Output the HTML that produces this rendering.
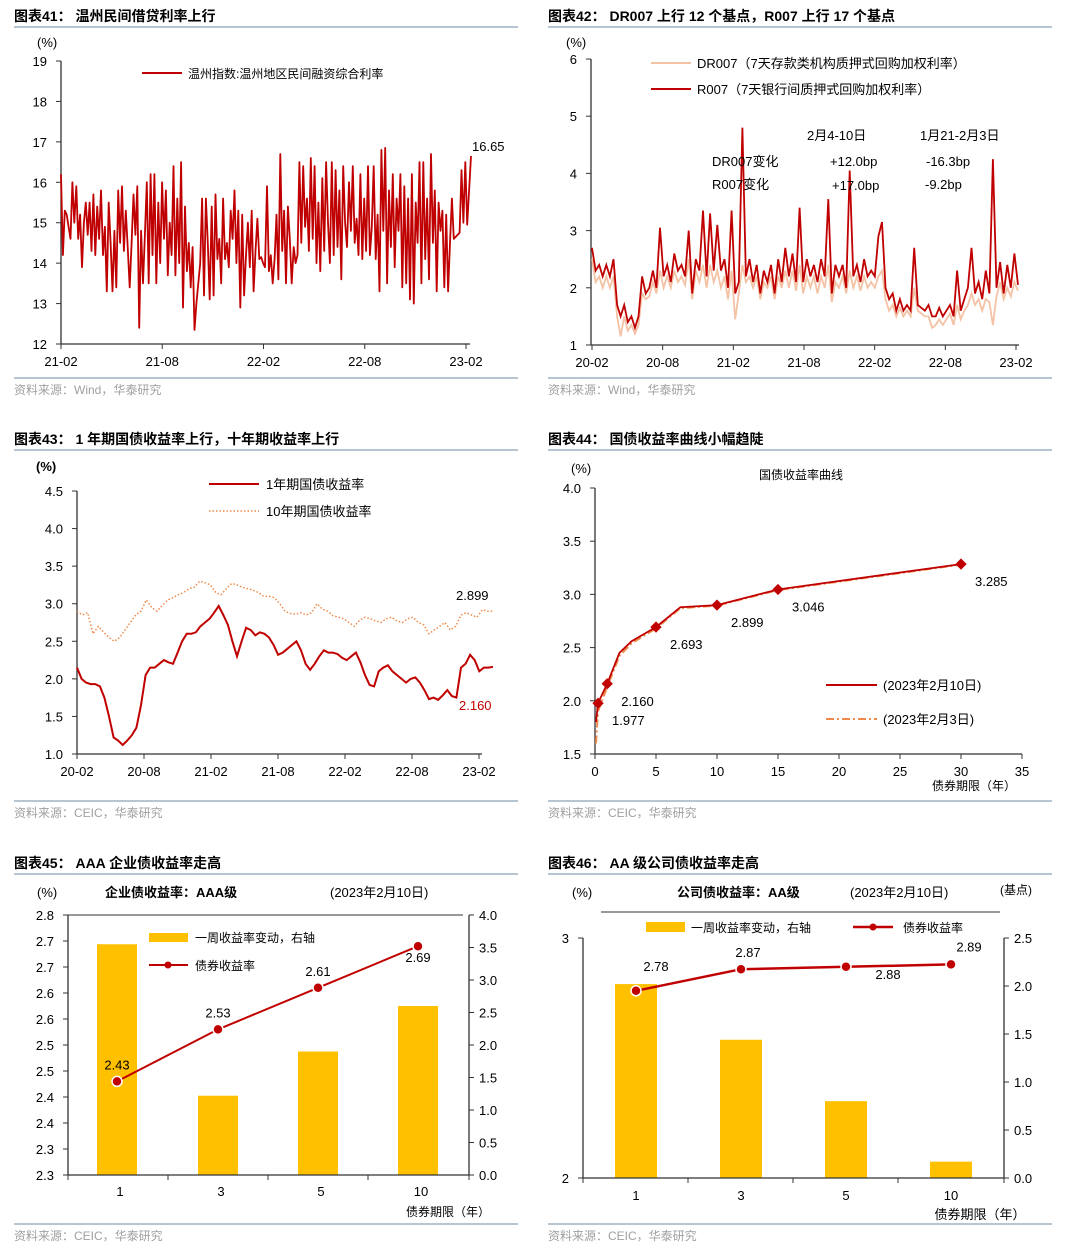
<!DOCTYPE html>
<html><head><meta charset="utf-8">
<style>
html,body{margin:0;padding:0;background:#fff;}
svg{display:block;font-family:"Liberation Sans","Noto Sans CJK SC",sans-serif;}
</style></head>
<body>
<svg id="s" width="1068" height="1258" viewBox="0 0 1068 1258" xmlns="http://www.w3.org/2000/svg"></svg>
<script>
// ---------- Chart 41 data ----------
const c41Ticks = [12,13,14,15,16,17,18,19];
const c41XLabels = ['21-02','21-08','22-02','22-08','23-02'];
const c41Rate = [16.2,14.2,15.3,15.2,14.9,14.6,16.0,15.0,15.9,14.6,15.2,13.9,15.0,15.5,14.7,15.5,14.3,15.7,14.2,15.4,14.6,15.8,14.2,14.9,13.3,15.5,14.5,13.3,14.8,13.4,15.8,14.5,15.9,14.3,15.3,14.4,13.4,14.5,15.7,14.7,15.9,12.4,14.8,13.5,14.7,16.0,13.5,16.2,14.2,16.2,13.5,
15.5,14.0,16.0,14.6,15.8,13.7,15.0,14.2,16.4,13.7,15.6,14.0,16.5,12.9,15.4,13.8,14.5,13.4,14.4,12.35,13.0,13.5,14.0,15.6,13.2,15.6,14.5,13.1,15.4,13.2,15.7,14.1,14.6,13.5,15.6,14.1,14.5,13.9,15.3,14.6,15.8,14.0,15.3,12.9,15.2,13.2,14.2,15.0,13.9,15.3,13.3,14.3,15.1,14.1,
14.15,14.0,13.9,15.9,13.8,14.2,13.5,14.1,15.2,13.6,16.7,14.3,15.3,13.5,15.4,14.6,13.5,14.4,14.0,14.2,
16.5,14.5,16.4,14.9,15.6,14.3,16.6,14.6,16.4,14.0,15.5,13.8,16.1,14.3,16.5,15.0,14.0,16.5,14.2,16.3,14.4,15.8,13.6,16.4,15.0,14.4,16.0,14.8,16.4,14.5,15.1,14.2,16.2,14.1,15.6,14.3,16.4,14.2,14.9,16.4,14.1,15.2,13.3,16.8,14.8,16.85,13.5,15.8,14.4,16.2,13.9,15.6,14.8,16.2,13.4,15.9,13.5,15.6,13.1,16.2,13.0,15.5,14.5,16.5,13.5,16.5,14.1,15.6,13.6,16.7,14.5,15.8,13.3,15.5,14.8,15.3,13.4,15.2,13.3,14.5,15.6,14.6,
14.65,14.7,14.75,16.3,15.0,16.5,14.95,15.8,16.65];

// ---------- Chart 42 data ----------
const c42Ticks = [1,2,3,4,5,6];
const c42XLabels = ['20-02','20-08','21-02','21-08','22-02','22-08','23-02'];
const c42R007 = [2.7,2.3,2.4,2.2,2.4,2.2,2.5,1.7,1.5,1.7,1.4,1.5,1.3,1.5,2.2,1.9,2.0,2.3,2.0,3.05,2.2,2.4,2.1,2.6,2.3,2.4,2.2,3.0,1.9,2.5,2.3,3.35,2.2,3.3,2.3,3.1,2.3,2.5,2.0,3.35,1.9,2.1,4.8,2.2,2.5,2.1,2.4,1.9,2.3,2.1,2.4,1.9,2.5,2.1,2.7,2.2,2.6,2.1,3.4,2.1,2.5,2.2,2.4,2.1,2.5,2.2,3.55,1.9,2.4,2.2,2.4,2.0,4.05,2.2,2.4,2.1,2.5,2.2,2.3,2.2,2.9,3.15,2.0,1.8,1.9,1.6,1.8,1.6,1.7,1.6,2.7,1.7,1.65,1.6,1.7,1.5,1.5,1.65,1.5,1.6,1.7,1.5,2.3,1.6,1.8,2.0,2.7,1.9,2.1,1.8,2.3,1.9,4.25,2.0,2.45,1.9,2.4,2.0,2.6,2.05];
const c42DR007 = [2.5,2.1,2.2,2.0,2.2,2.0,2.2,1.5,1.15,1.5,1.25,1.35,1.2,1.35,1.9,1.8,1.85,2.1,1.9,2.3,2.0,2.2,2.0,2.3,2.1,2.2,2.05,2.5,1.8,2.3,2.1,2.4,2.0,2.4,2.1,2.3,2.0,2.2,1.8,2.3,1.45,1.9,2.4,2.1,2.2,2.0,2.2,1.8,2.1,2.0,2.2,1.8,2.2,2.0,2.3,2.0,2.3,1.95,2.4,1.9,2.2,2.0,2.2,1.9,2.2,2.0,2.4,1.75,2.1,2.0,2.2,1.9,2.3,2.0,2.2,1.95,2.2,2.0,2.1,2.0,2.2,2.3,1.8,1.6,1.7,1.5,1.65,1.5,1.6,1.5,2.0,1.6,1.55,1.5,1.5,1.3,1.35,1.45,1.35,1.45,1.55,1.35,1.7,1.45,1.6,1.7,1.9,1.7,1.8,1.6,1.8,1.75,1.35,1.85,2.1,1.8,2.0,1.85,2.1,1.95];

// ---------- Chart 43 data ----------
const c43Ticks = [1.0,1.5,2.0,2.5,3.0,3.5,4.0,4.5];
const c43XLabels = ['20-02','20-08','21-02','21-08','22-02','22-08','23-02'];
const c43Y1 = [2.15,2.0,1.95,1.93,1.93,1.9,1.75,1.5,1.22,1.18,1.12,1.18,1.25,1.35,1.65,2.05,2.15,2.15,2.2,2.25,2.22,2.2,2.35,2.5,2.6,2.6,2.62,2.7,2.75,2.8,2.88,2.97,2.85,2.72,2.5,2.3,2.5,2.68,2.65,2.58,2.62,2.6,2.55,2.45,2.32,2.35,2.4,2.45,2.5,2.38,2.2,2.12,2.2,2.3,2.38,2.35,2.35,2.33,2.28,2.25,2.3,2.35,2.22,2.05,1.92,1.9,2.1,2.15,2.18,2.1,2.05,2.0,1.95,2.0,2.02,1.95,1.85,1.73,1.75,1.72,1.78,1.85,1.77,1.75,2.15,2.2,2.32,2.25,2.1,2.15,2.15,2.16];
const c43Y10 = [2.9,2.85,2.88,2.6,2.7,2.62,2.55,2.5,2.55,2.65,2.75,2.85,2.9,3.05,2.95,2.9,2.98,3.05,3.08,3.12,3.15,3.2,3.22,3.3,3.28,3.25,3.15,3.12,3.2,3.27,3.25,3.22,3.2,3.18,3.15,3.1,3.1,3.08,3.0,2.9,2.87,2.86,2.88,2.85,2.88,3.0,2.93,2.9,2.84,2.82,2.8,2.75,2.7,2.78,2.82,2.8,2.77,2.75,2.8,2.82,2.77,2.75,2.8,2.82,2.75,2.72,2.6,2.65,2.7,2.75,2.65,2.7,2.85,2.88,2.85,2.82,2.92,2.9,2.9];

// ---------- Chart 44 data ----------
const c44Ticks = [1.5,2.0,2.5,3.0,3.5,4.0];
const c44XTicks = [0,5,10,15,20,25,30,35];
const c44Tenor = [0.08,0.25,1,2,3,5,7,10,15,30];
const c44Feb10 = [1.8,1.977,2.16,2.45,2.56,2.693,2.88,2.899,3.046,3.285];
const c44Feb3 = [1.6,1.9,2.13,2.42,2.54,2.68,2.87,2.895,3.04,3.28];
const c44MarkTenor = [0.25,1,5,10,15,30];
const c44MarkVal = [1.977,2.16,2.693,2.899,3.046,3.285];

// ---------- Chart 45 data ----------
const c45Cats = ['1','3','5','10'];
const c45Yield = [2.43,2.53,2.61,2.69];
const c45Change = [3.55,1.22,1.9,2.6];
const c45LeftTicks = [2.25,2.30,2.35,2.40,2.45,2.50,2.55,2.60,2.65,2.70,2.75];
const c45RightTicks = [0,0.5,1.0,1.5,2.0,2.5,3.0,3.5,4.0];

// ---------- Chart 46 data ----------
const c46Cats = ['1','3','5','10'];
const c46Yield = [2.78,2.87,2.88,2.89];
const c46Change = [2.02,1.44,0.80,0.17];
const c46LeftTicks = [2,3];
const c46RightTicks = [0,0.5,1.0,1.5,2.0,2.5];

const NS='http://www.w3.org/2000/svg';
const svg=document.getElementById('s');
function el(tag,attrs,parent,text){const e=document.createElementNS(NS,tag);for(const k in attrs)e.setAttribute(k,attrs[k]);if(text!==undefined)e.textContent=text;(parent||svg).appendChild(e);return e;}
function grp(name){const g=el('g',{});return g;}
function lin(d0,d1,r0,r1){return v=>r0+(v-d0)/(d1-d0)*(r1-r0);}
function txt(g,x,y,s,opt){opt=opt||{};const t=el('text',{x:x,y:y,'font-size':opt.fs||13,fill:opt.fill||'#000','text-anchor':opt.anchor||'start','font-weight':opt.fw||'normal'},g,s);return t;}
function pathFrom(xs,ys){let d='';for(let i=0;i<xs.length;i++)d+=(i?'L':'M')+xs[i].toFixed(1)+','+ys[i].toFixed(1);return d;}
function fmt1(v){return (Math.round(v*10+1e-9)/10).toFixed(1);}

function frame(x,yTitle,title,source,nm){
  const g=grp(nm+'-frame');
  const t=txt(g,x,yTitle,title,{fs:14,fw:'bold'});
  
  el('line',{x1:x,y1:yTitle+6,x2:x+504,y2:yTitle+6,stroke:'#6f8aa6','stroke-width':1},g);
  const srcY = yTitle+ (nm==='c45'||nm==='c46'?356:357);
  el('line',{x1:x,y1:srcY,x2:x+504,y2:srcY,stroke:'#6f8aa6','stroke-width':1},g);
  const s=txt(g,x,srcY+16,source,{fs:12,fill:'#a0a0a0'});
  
}
frame(14,21,'图表41：  温州民间借贷利率上行','资料来源：Wind，华泰研究','c41');
frame(548,21,'图表42：  DR007 上行 12 个基点，R007 上行 17 个基点','资料来源：Wind，华泰研究','c42');
frame(14,444,'图表43：  1 年期国债收益率上行，十年期收益率上行','资料来源：CEIC，华泰研究','c43');
frame(548,444,'图表44：  国债收益率曲线小幅趋陡','资料来源：CEIC，华泰研究','c44');
frame(14,868,'图表45：  AAA 企业债收益率走高','资料来源：CEIC，华泰研究','c45');
frame(548,868,'图表46：  AA 级公司债收益率走高','资料来源：CEIC，华泰研究','c46');

function yAxis(g,x,ys,ticks,yFn,labFn,side){
  el('line',{x1:x,y1:ys[0],x2:x,y2:ys[1],stroke:'#333','stroke-width':1.3},g);
  ticks.forEach(v=>{const y=yFn(v);
    el('line',{x1:side==='r'?x:x-5,y1:y,x2:side==='r'?x+5:x,y2:y,stroke:'#333'},g);
    const t=txt(g,side==='r'?x+10:x-14,y+5,labFn(v),{anchor:side==='r'?'start':'end'});
    });
}
function xAxisTime(g,y,x0,x1,xs,labels){
  el('line',{x1:x0,y1:y,x2:x1,y2:y,stroke:'#333','stroke-width':1.3},g);
  labels.forEach((l,i)=>{el('line',{x1:xs[i],y1:y,x2:xs[i],y2:y+5,stroke:'#333'},g);
    const t=txt(g,xs[i],y+22,l,{anchor:'middle'});
    });
}

// ===== Chart 41 =====
(function(){
  const g=grp('chart41-wenzhou-rate');
  const Y=lin(12,19,344,61);
  txt(g,37,47,'(%)');
  yAxis(g,61,[61,344],c41Ticks,Y,v=>String(v));
  const xt=c41XLabels.map((l,i)=>lin(0,4,61,466)(i));
  xAxisTime(g,344,61,470,xt,c41XLabels);
  const X=lin(0,c41Rate.length-1,61,471);
  const p=el('path',{d:pathFrom(c41Rate.map((v,i)=>X(i)),c41Rate.map(Y)),fill:'none',stroke:'#c00000','stroke-width':1.8,'stroke-linejoin':'round'},g);
  
  const lg=grp('c41-legend');g.appendChild(lg);
  el('line',{x1:142,y1:73,x2:182,y2:73,stroke:'#c00000','stroke-width':2},lg);
  txt(lg,188,78,'温州指数:温州地区民间融资综合利率',{fs:12});
  txt(g,472,151,'16.65',{fs:13});
})();

// ===== Chart 42 =====
(function(){
  const g=grp('chart42-repo-rates');
  const Y=lin(1,6,345,59);
  txt(g,566,47,'(%)');
  yAxis(g,591,[59,345],c42Ticks,Y,v=>String(v));
  const xt=c42XLabels.map((l,i)=>lin(0,6,592,1016)(i));
  xAxisTime(g,345,591,1019,xt,c42XLabels);
  const X1=lin(0,c42DR007.length-1,592,1018);
  const p1=el('path',{d:pathFrom(c42DR007.map((v,i)=>X1(i)),c42DR007.map(Y)),fill:'none',stroke:'#f4c2a4','stroke-width':1.8},g);
  
  const X2=lin(0,c42R007.length-1,592,1018);
  const p2=el('path',{d:pathFrom(c42R007.map((v,i)=>X2(i)),c42R007.map(Y)),fill:'none',stroke:'#c00000','stroke-width':1.8},g);
  
  const lg=grp('c42-legend');g.appendChild(lg);
  el('line',{x1:651,y1:63,x2:691,y2:63,stroke:'#f4c2a4','stroke-width':2},lg);
  txt(lg,697,68,'DR007（7天存款类机构质押式回购加权利率）',{fs:13});
  el('line',{x1:651,y1:89,x2:691,y2:89,stroke:'#c00000','stroke-width':2},lg);
  txt(lg,697,94,'R007（7天银行间质押式回购加权利率）',{fs:13});
  const an=grp('c42-annotation-table');g.appendChild(an);
  txt(an,807,140,'2月4-10日');txt(an,920,140,'1月21-2月3日');
  txt(an,712,166,'DR007变化');txt(an,830,166,'+12.0bp');txt(an,926,166,'-16.3bp');
  txt(an,712,189,'R007变化');txt(an,832,190,'+17.0bp');txt(an,925,189,'-9.2bp');
})();

// ===== Chart 43 =====
(function(){
  const g=grp('chart43-treasury-yields');
  const Y=lin(1,4.5,754,491);
  txt(g,36,471,'(%)',{fw:'bold'});
  yAxis(g,77,[491,754],c43Ticks,Y,v=>v.toFixed(1));
  const xt=c43XLabels.map((l,i)=>lin(0,6,77,479)(i));
  xAxisTime(g,754,77,482,xt,c43XLabels);
  const X10=lin(0,c43Y10.length-1,77,493);
  const p10=el('path',{d:pathFrom(c43Y10.map((v,i)=>X10(i)),c43Y10.map(Y)),fill:'none',stroke:'#ee8a4a','stroke-width':1.5,'stroke-dasharray':'1.5,2'},g);
  
  const X1=lin(0,c43Y1.length-1,77,493);
  const p1=el('path',{d:pathFrom(c43Y1.map((v,i)=>X1(i)),c43Y1.map(Y)),fill:'none',stroke:'#c00000','stroke-width':2},g);
  
  const lg=grp('c43-legend');g.appendChild(lg);
  el('line',{x1:209,y1:484,x2:259,y2:484,stroke:'#c00000','stroke-width':2},lg);
  txt(lg,266,489,'1年期国债收益率',{fs:13});
  el('line',{x1:209,y1:511,x2:259,y2:511,stroke:'#ee8a4a','stroke-width':1.5,'stroke-dasharray':'1.5,2'},lg);
  txt(lg,266,516,'10年期国债收益率',{fs:13});
  txt(g,456,600,'2.899');
  txt(g,459,710,'2.160',{fill:'#c00000'});
})();

// ===== Chart 44 =====
(function(){
  const g=grp('chart44-yield-curve');
  const Y=lin(1.5,4.0,754,488), X=lin(0,35,595,1022);
  txt(g,571,473,'(%)');
  yAxis(g,595,[488,754],c44Ticks,Y,v=>v.toFixed(1));
  el('line',{x1:595,y1:754,x2:1022,y2:754,stroke:'#333','stroke-width':1.3},g);
  c44XTicks.forEach(v=>{el('line',{x1:X(v),y1:754,x2:X(v),y2:759,stroke:'#333'},g);
    const t=txt(g,X(v),776,String(v),{anchor:'middle'});});
  txt(g,974,790,'债券期限（年）',{anchor:'middle',fs:12});
  txt(g,801,479,'国债收益率曲线',{anchor:'middle',fs:12});
  const p3=el('path',{d:pathFrom(c44Tenor.map(X),c44Feb3.map(Y)),fill:'none',stroke:'#ee8a4a','stroke-width':2,'stroke-dasharray':'8,3,2,3'},g);
  
  const p10=el('path',{d:pathFrom(c44Tenor.map(X),c44Feb10.map(Y)),fill:'none',stroke:'#c00000','stroke-width':1.8},g);
  
  c44MarkTenor.forEach((t,i)=>{const cx=X(t),cy=Y(c44MarkVal[i]);
    const m=el('rect',{x:cx-4,y:cy-4,width:8,height:8,fill:'#c00000',transform:'rotate(45 '+cx+' '+cy+')'},g);
    
    const lbl=txt(g,cx+14,cy+22,c44MarkVal[i].toFixed(3));
    });
  const lg=grp('c44-legend');g.appendChild(lg);
  el('line',{x1:826,y1:685,x2:877,y2:685,stroke:'#c00000','stroke-width':2},lg);
  txt(lg,883,690,'(2023年2月10日)',{fs:13});
  el('line',{x1:826,y1:719,x2:877,y2:719,stroke:'#ee8a4a','stroke-width':2,'stroke-dasharray':'8,3,2,3'},lg);
  txt(lg,883,724,'(2023年2月3日)',{fs:13});
})();

// ===== Chart 45 =====
(function(){
  const g=grp('chart45-aaa-yields');
  const YL=lin(2.25,2.75,1175,915), YR=lin(0,4,1175,915);
  const xc=[117,218,318,418], bw=40;
  txt(g,37,897,'(%)');
  txt(g,105,897,'企业债收益率：AAA级',{fw:'bold'});
  txt(g,330,897,'(2023年2月10日)');
  el('line',{x1:68,y1:915,x2:463,y2:915,stroke:'#333','stroke-width':1},g);
  c45Change.forEach((v,i)=>{const b=el('rect',{x:xc[i]-bw/2,y:YR(v),width:bw,height:1175-YR(v),fill:'#ffc000'},g);
    });
  yAxis(g,68,[915,1175],c45LeftTicks,YL,fmt1);
  yAxis(g,469,[915,1175],c45RightTicks,YR,v=>v.toFixed(1),'r');
  el('line',{x1:68,y1:1175,x2:469,y2:1175,stroke:'#333','stroke-width':1.3},g);
  [68,168,268,368,469].forEach(x=>el('line',{x1:x,y1:1175,x2:x,y2:1180,stroke:'#333'},g));
  c45Cats.forEach((c,i)=>{const t=txt(g,xc[i]+3,1196,c,{anchor:'middle'});});
  txt(g,448,1216,'债券期限（年）',{anchor:'middle',fs:12});
  const ln=el('path',{d:pathFrom(xc,c45Yield.map(YL)),fill:'none',stroke:'#c00000','stroke-width':2},g);
  
  c45Yield.forEach((v,i)=>{const d=el('circle',{cx:xc[i],cy:YL(v),r:5,fill:'#c00000',stroke:'#fff','stroke-width':1.5},g);
    
    const l=txt(g,xc[i]+(i===3?0:0),YL(v)-(i===3?-16:12),v.toFixed(2),{anchor:'middle'});
    });
  const lg=grp('c45-legend');g.appendChild(lg);
  el('rect',{x:149,y:933,width:39,height:9,fill:'#ffc000'},lg);
  txt(lg,195,942,'一周收益率变动，右轴',{fs:12});
  el('line',{x1:149,y1:965,x2:188,y2:965,stroke:'#c00000','stroke-width':2},lg);
  el('circle',{cx:168,cy:965,r:3.5,fill:'#c00000'},lg);
  txt(lg,195,970,'债券收益率',{fs:12});
})();

// ===== Chart 46 =====
(function(){
  const g=grp('chart46-aa-yields');
  const YL=lin(2,3,1178,938), YR=lin(0,2.5,1178,938);
  const xc=[636,741,846,951], bw=42;
  txt(g,572,897,'(%)');
  txt(g,677,897,'公司债收益率：AA级',{fw:'bold'});
  txt(g,850,897,'(2023年2月10日)');
  txt(g,1000,894,'(基点)',{fs:12});
  el('line',{x1:601,y1:912,x2:1000,y2:912,stroke:'#333','stroke-width':1},g);
  c46Change.forEach((v,i)=>{const b=el('rect',{x:xc[i]-bw/2,y:YR(v),width:bw,height:1178-YR(v),fill:'#ffc000'},g);
    });
  yAxis(g,583,[938,1178],c46LeftTicks,YL,v=>String(v));
  yAxis(g,1004,[938,1178],c46RightTicks,YR,v=>v.toFixed(1),'r');
  el('line',{x1:583,y1:1178,x2:1004,y2:1178,stroke:'#333','stroke-width':1.3},g);
  [583,688,793,898,1004].forEach(x=>el('line',{x1:x,y1:1178,x2:x,y2:1183,stroke:'#333'},g));
  c46Cats.forEach((c,i)=>{const t=txt(g,xc[i],1200,c,{anchor:'middle'});});
  txt(g,980,1219,'债券期限（年）',{anchor:'middle',fs:13});
  const ln=el('path',{d:pathFrom(xc,c46Yield.map(YL)),fill:'none',stroke:'#c00000','stroke-width':2.5},g);
  
  const off=[[20,-20],[7,-12],[42,12],[18,-13]];
  c46Yield.forEach((v,i)=>{const d=el('circle',{cx:xc[i],cy:YL(v),r:5,fill:'#c00000',stroke:'#fff','stroke-width':1.5},g);
    
    const l=txt(g,xc[i]+off[i][0],YL(v)+off[i][1],v.toFixed(2),{anchor:'middle'});
    });
  const lg=grp('c46-legend');g.appendChild(lg);
  el('rect',{x:646,y:922,width:39,height:10,fill:'#ffc000'},lg);
  txt(lg,691,932,'一周收益率变动，右轴',{fs:12});
  el('line',{x1:853,y1:927,x2:893,y2:927,stroke:'#c00000','stroke-width':2.5},lg);
  el('circle',{cx:873,cy:927,r:3.5,fill:'#c00000'},lg);
  txt(lg,903,932,'债券收益率',{fs:12});
})();
</script>
</body></html>
